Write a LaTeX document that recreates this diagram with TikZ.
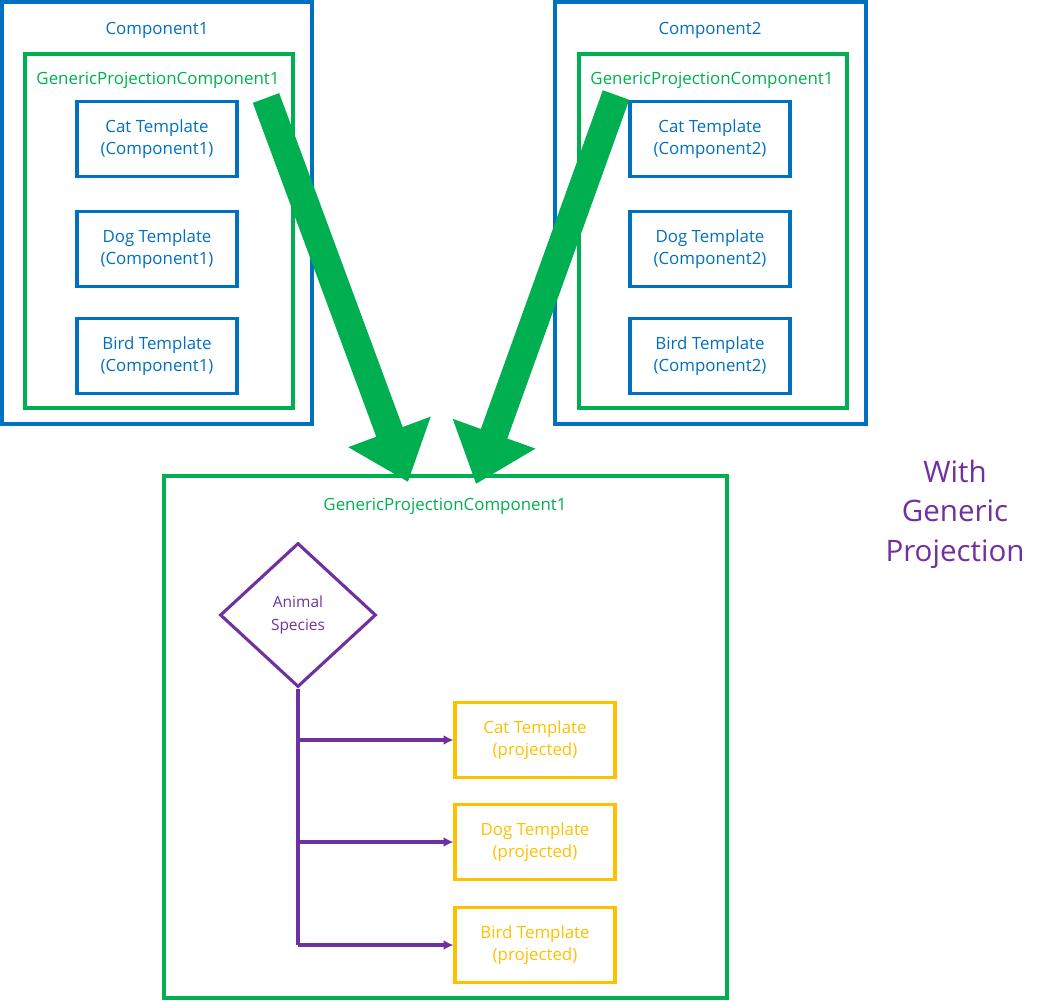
\documentclass[tikz,border=0pt]{standalone}
\usepackage{fontspec}
\setmainfont{Open Sans}
\usetikzlibrary{arrows.meta,shapes.geometric}
\definecolor{cblue}{HTML}{0070C0}
\definecolor{cgreen}{HTML}{00B050}
\definecolor{cpurple}{HTML}{7030A0}
\definecolor{cyellow}{HTML}{FFC000}
\tikzset{
  box/.style={draw, line width=2.2pt, minimum width=160*0.711pt, minimum height=75*0.711pt, align=center, font=\fontsize{12}{16}\selectfont, inner sep=0pt},
  tmpl/.style={box, draw=cblue, text=cblue},
  proj/.style={box, draw=cyellow, text=cyellow},
  frame/.style={draw, line width=2.2pt},
  lbl/.style={font=\fontsize{12}{16}\selectfont},
  bigarrow/.style={cgreen, line width=20pt, -{Triangle[length=38pt,width=60pt]}},
  flow/.style={cpurple, line width=2.8pt, -{Latex[length=7pt,width=7pt]}}
}
\begin{document}
\begin{tikzpicture}[x=0.025cm,y=-0.025cm]
\useasboundingbox (0,0) rectangle (1049,1000);
% upper left component
\draw[frame, cblue] (2,2) rectangle (312,424);
\node[lbl, text=cblue] (c1) at (157,30) {Component1};
\draw[frame, cgreen] (25,54) rectangle (293,408);
\node[lbl, text=cgreen] (g1) at (158,80) {GenericProjectionComponent1};
\node[tmpl] (cat1) at (157,139) {Cat Template\\(Component1)};
\node[tmpl] (dog1) at (157,249) {Dog Template\\(Component1)};
\node[tmpl] (bird1) at (157,356) {Bird Template\\(Component1)};
% upper right component
\draw[frame, cblue] (555,2) rectangle (866,424);
\node[lbl, text=cblue] (c2) at (710,30) {Component2};
\draw[frame, cgreen] (579,54) rectangle (847,408);
\node[lbl, text=cgreen] (g2) at (712,80) {GenericProjectionComponent1};
\node[tmpl] (cat2) at (710,139) {Cat Template\\(Component2)};
\node[tmpl] (dog2) at (710,249) {Dog Template\\(Component2)};
\node[tmpl] (bird2) at (710,356) {Bird Template\\(Component2)};
% projection
\draw[frame, cgreen] (164,476) rectangle (727,998);
\node[lbl, text=cgreen] (g3) at (445,506) {GenericProjectionComponent1};
\node[draw=cpurple, line width=2.2pt, diamond, text=cpurple, align=center,
  minimum width=156*0.711pt, minimum height=144*0.711pt, inner sep=0pt,
  font=\fontsize{11}{16}\selectfont] (sp) at (298,615) {Animal\\Species};
\node[proj] (catp) at (535,740) {Cat Template\\(projected)};
\node[proj] (dogp) at (535,842) {Dog Template\\(projected)};
\node[proj] (birdp) at (535,945) {Bird Template\\(projected)};
\draw[cpurple, line width=2.8pt] (sp.south) -- (sp.south |- birdp);
\draw[flow] (sp.south |- catp) -- (catp.west);
\draw[flow] (sp.south |- dogp) -- (dogp.west);
\draw[flow] (sp.south |- birdp) -- (birdp.west);
% big arrows
\coordinate (a1) at (266,98);
\coordinate (b1) at (408,482);
\coordinate (a2) at (616,95);
\coordinate (b2) at (476,484);
\draw[bigarrow] (a1) -- (b1);
\draw[bigarrow] (a2) -- (b2);
\node[text=cpurple, align=center, font=\fontsize{21}{28}\selectfont] (title) at (955,514) {With\\Generic\\Projection};
\end{tikzpicture}
\end{document}
